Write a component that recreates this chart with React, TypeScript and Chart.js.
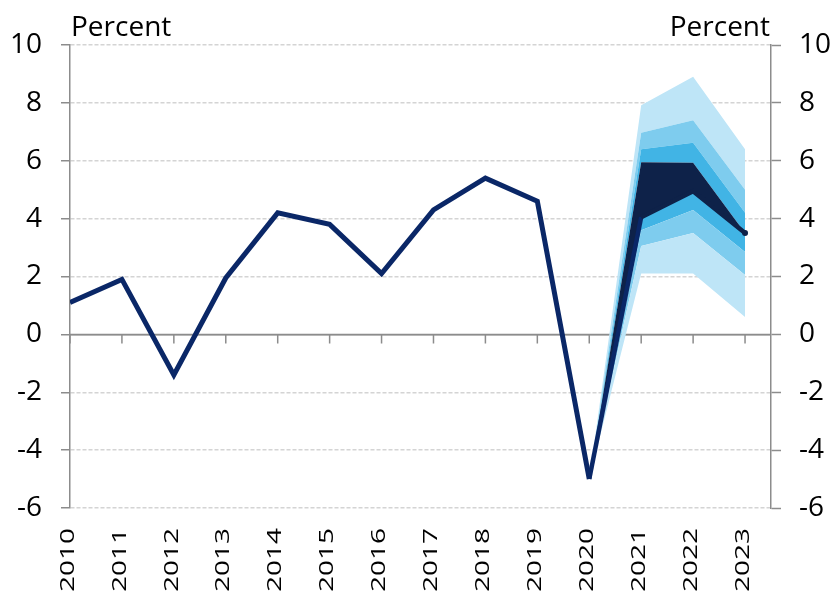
import React, { useEffect, useRef } from "react";
import { Chart, registerables } from "chart.js";

Chart.register(...registerables);

// ---------- data ----------
const years = [2010, 2011, 2012, 2013, 2014, 2015, 2016, 2017, 2018, 2019, 2020, 2021, 2022, 2023];
const histYears = [2010, 2011, 2012, 2013, 2014, 2015, 2016, 2017, 2018, 2019, 2020];
const histValues = [1.1, 1.9, -1.4, 1.95, 4.2, 3.8, 2.1, 4.3, 5.4, 4.6, -5.0];

const projYears = [2020, 2021, 2022, 2023];
const projCentral = [-5.0, 4.05, 4.95, 3.5];
const band90Low = [-5.0, 2.1, 2.1, 0.6];
const band70Low = [-5.0, 3.05, 3.5, 2.05];
const band50Low = [-5.0, 3.6, 4.3, 2.85];
const band30Low = [-5.0, 4.0, 4.9, 3.5];
const band30High = [-5.0, 5.95, 5.93, 3.5];
const band50High = [-5.0, 6.4, 6.62, 4.2];
const band70High = [-5.0, 6.97, 7.4, 5.0];
const band90High = [-5.0, 7.92, 8.9, 6.4];

const yMin = -6;
const yMax = 10;
const yStep = 2;
const xMax = 2023.5;
const axisTitle = "Percent";

// ---------- styles ----------
const FONT = '"Open Sans", "Noto Sans", sans-serif';
const LINE_COLOR = "#0A2767";
const DARK = "#0E2249";
const MID = "#41B4E5";
const LIGHT = "#7ECCEE";
const LIGHTEST = "#BEE5F7";
const AXIS_GRAY = "#8C8C8C";
const GRID_GRAY = "#D4D4D4";

const pts = (xs: number[], ys: number[]) => xs.map((x, i) => ({ x, y: ys[i] }));

const band = (vals: number[], color: string | null) => ({
  data: pts(projYears, vals),
  borderWidth: 0,
  pointRadius: 0,
  backgroundColor: color || "rgba(0,0,0,0)",
  fill: color ? "-1" : false,
  tension: 0,
});

const decorPlugin = {
  id: "decor",
  beforeDatasetsDraw(chart: any) {
    const { ctx, chartArea, scales } = chart;
    const xs = scales.x;
    const ys = scales.y;
    const y0 = ys.getPixelForValue(0);
    ctx.save();
    ctx.strokeStyle = AXIS_GRAY;
    ctx.lineWidth = 1.5;
    ctx.beginPath();
    ctx.moveTo(chartArea.left, y0);
    ctx.lineTo(chartArea.right, y0);
    for (const yr of years) {
      const x = xs.getPixelForValue(yr);
      ctx.moveTo(x, y0);
      ctx.lineTo(x, y0 + 9);
    }
    ctx.stroke();
    ctx.restore();
  },
  afterDraw(chart: any) {
    const { ctx, chartArea, scales } = chart;
    const xs = scales.x;
    ctx.save();
    ctx.fillStyle = "#000";
    ctx.font = `28px ${FONT}`;
    ctx.textBaseline = "alphabetic";
    ctx.textAlign = "left";
    ctx.fillText(axisTitle, chartArea.left + 1, chartArea.top - 9);
    ctx.textAlign = "right";
    ctx.fillText(axisTitle, chartArea.right - 1, chartArea.top - 9);
    // rotated year labels
    for (const yr of years) {
      const x = xs.getPixelForValue(yr);
      ctx.save();
      ctx.translate(x + 3.7, chartArea.bottom + 20);
      ctx.rotate(-Math.PI / 2);
      ctx.scale(1, 0.7);
      ctx.textAlign = "right";
      ctx.textBaseline = "alphabetic";
      ctx.fillText(String(yr), 0, 0);
      ctx.restore();
    }
    ctx.restore();
  },
};

export default function App() {
  const ref = useRef<HTMLCanvasElement | null>(null);

  useEffect(() => {
    document.body.style.margin = "0";
    const canvas = ref.current;
    if (!canvas) return;

    const chart = new Chart(canvas, {
      type: "line",
      data: {
        datasets: [
          {
            data: pts(histYears, histValues),
            borderColor: LINE_COLOR,
            borderWidth: 5,
            pointRadius: 0,
            fill: false,
            tension: 0,
            borderJoinStyle: "miter",
          } as any,
          {
            data: pts(projYears, projCentral),
            borderColor: DARK,
            backgroundColor: DARK,
            borderWidth: 4.5,
            pointRadius: (c: any) => (c.dataIndex === projYears.length - 1 ? 3 : 0),
            pointBorderWidth: 0,
            fill: false,
            tension: 0,
            borderJoinStyle: "miter",
            segment: {
              borderColor: (c: any) => (c.p0DataIndex === 0 ? LINE_COLOR : DARK),
            },
          } as any,
          band(band90Low, null),
          band(band70Low, LIGHTEST),
          band(band50Low, LIGHT),
          band(band30Low, MID),
          band(band30High, DARK),
          band(band50High, MID),
          band(band70High, LIGHT),
          band(band90High, LIGHTEST),
        ] as any,
      },
      options: {
        animation: false,
        responsive: false,
        devicePixelRatio: 1,
        layout: { padding: { top: 45, left: 0, right: 0, bottom: 0 } },
        plugins: {
          legend: { display: false },
          tooltip: { enabled: false },
        },
        scales: {
          x: {
            type: "linear",
            min: years[0],
            max: xMax,
            ticks: { display: false, stepSize: 1 },
            grid: { display: false },
            border: { display: false },
            afterFit(scale: any) {
              scale.height = 85;
            },
          },
          y: {
            position: "left",
            min: yMin,
            max: yMax,
            ticks: {
              stepSize: yStep,
              padding: 19,
              color: "#000",
              font: { family: FONT, size: 28 },
            },
            grid: {
              color: (c: any) => (c.tick && c.tick.value === 0 ? AXIS_GRAY : GRID_GRAY),
              lineWidth: 1.5,
              tickLength: 9,
              tickColor: AXIS_GRAY,
              tickWidth: 1.5,
            },
            border: {
              display: true,
              color: AXIS_GRAY,
              width: 1.5,
              dash: (c: any) => (c.tick && c.tick.value === 0 ? [] : [4, 2]),
            } as any,
            afterFit(scale: any) {
              scale.width = 70;
            },
          },
          y2: {
            position: "right",
            min: yMin,
            max: yMax,
            ticks: {
              stepSize: yStep,
              padding: 18,
              color: "#000",
              font: { family: FONT, size: 28 },
            },
            grid: {
              drawOnChartArea: false,
              tickLength: 10,
              tickColor: AXIS_GRAY,
              tickWidth: 1.5,
            },
            border: { display: true, color: AXIS_GRAY, width: 1.5 },
            afterFit(scale: any) {
              scale.width = 62;
            },
          },
        },
      } as any,
      plugins: [decorPlugin],
    });

    return () => chart.destroy();
  }, []);

  return (
    <div style={{ width: 833, height: 593, position: "relative" }}>
      <canvas ref={ref} width={833} height={593} style={{ display: "block" }} />
    </div>
  );
}
